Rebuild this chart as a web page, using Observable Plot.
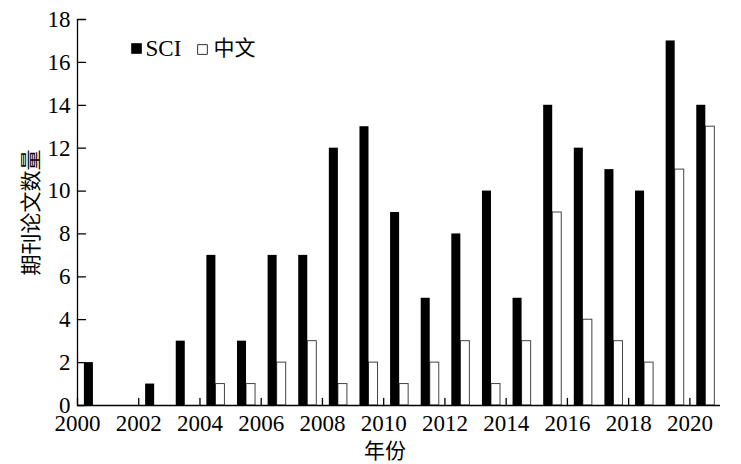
<!DOCTYPE html>
<html><head><meta charset="utf-8">
<script src="https://cdn.jsdelivr.net/npm/d3@7"></script>
<script src="https://cdn.jsdelivr.net/npm/@observablehq/plot@0.6"></script>
<style>
body{margin:0;background:#fff;}
#chart{width:741px;height:464px;}
</style></head><body><div id="chart"></div>
<script>
const years = [2000,2001,2002,2003,2004,2005,2006,2007,2008,2009,2010,2011,2012,2013,2014,2015,2016,2017,2018,2019,2020];
const sci   = [2,0,1,3,7,3,7,7,12,13,9,5,8,10,5,14,12,11,10,17,14];
const zh    = [0,0,0,0,1,1,2,3,1,2,1,2,3,1,3,9,4,3,2,11,13];
const yTicks = [0,2,4,6,8,10,12,14,16,18];
const xTicks = [2000,2002,2004,2006,2008,2010,2012,2014,2016,2018,2020];
const seriesNames = ["SCI","中文"];
const yLabel = "期刊论文数量";
const xLabel = "年份";

const sciRows = years.map((yr,i)=>({year:yr, value:sci[i]}));
const zhRows = years.map((yr,i)=>({year:yr, value:zh[i]}));
const start = 0.225, barW = 0.295;
const tickShape = {draw(context, l){ context.moveTo(0,0); context.lineTo(0,-l); }};
const serif = "'Liberation Serif','Times New Roman',serif";
const cjk = "'Noto Sans CJK SC',sans-serif";

const plot = Plot.plot({
  width:741, height:464,
  marginLeft:77, marginRight:21, marginTop:19, marginBottom:59,
  x:{domain:[2000,2021]},
  y:{domain:[0,18]},
  style:{fontFamily:serif, fontSize:"22px", color:"#000", background:"#fff"},
  marks:[
    Plot.rectY(zhRows, {x1:d=>d.year+start+barW, x2:d=>d.year+start+2*barW, y1:0, y2:"value", fill:"#fff", stroke:"#444", strokeWidth:1}),
    Plot.rectY(sciRows, {x1:d=>d.year+start, x2:d=>d.year+start+barW, y1:0, y2:"value", fill:"#000"}),
    Plot.ruleY([0], {stroke:"#000", strokeWidth:1.3}),
    Plot.ruleX([2000], {stroke:"#000", strokeWidth:1.3}),
    Plot.axisY({ticks:yTicks, tickSize:0, tickPadding:7, label:null, tickFormat:d=>String(d), fontSize:23}),
    Plot.axisX({ticks:xTicks, tickSize:0, tickPadding:9, label:null, tickFormat:d=>String(d), fontSize:23}),
    Plot.vector(yTicks, {x:()=>2000, y:d=>d, length:8, rotate:90, anchor:"start", shape:tickShape, stroke:"#000", strokeWidth:1.3}),
    Plot.vector(xTicks, {x:d=>d, y:()=>0, length:7, rotate:0, anchor:"start", shape:tickShape, stroke:"#000", strokeWidth:1.3}),
    // legend
    Plot.dot([seriesNames[0]], {frameAnchor:"top-left", dx:59, dy:29, symbol:"square", r:6, fill:"#000"}),
    Plot.text([seriesNames[0]], {frameAnchor:"top-left", dx:68, dy:29, lineAnchor:"middle", text:d=>d, textAnchor:"start", fontFamily:serif, fontSize:23}),
    Plot.dot([seriesNames[1]], {frameAnchor:"top-left", dx:125, dy:30, symbol:"square", r:5.5, fill:"#fff", stroke:"#333", strokeWidth:1}),
    Plot.text([seriesNames[1]], {frameAnchor:"top-left", dx:136, dy:29, lineAnchor:"middle", text:d=>d, textAnchor:"start", fontFamily:cjk, fontSize:21}),
    // axis titles
    Plot.text([xLabel], {frameAnchor:"bottom", dx:-14, dy:46, lineAnchor:"middle", textAnchor:"middle", text:d=>d, fontFamily:cjk, fontSize:21}),
    Plot.text([yLabel], {frameAnchor:"left", dx:-46, dy:0, rotate:-90, lineAnchor:"middle", textAnchor:"middle", text:d=>d, fontFamily:cjk, fontSize:21})
  ]
});
document.getElementById("chart").appendChild(plot);
</script>
</body></html>
